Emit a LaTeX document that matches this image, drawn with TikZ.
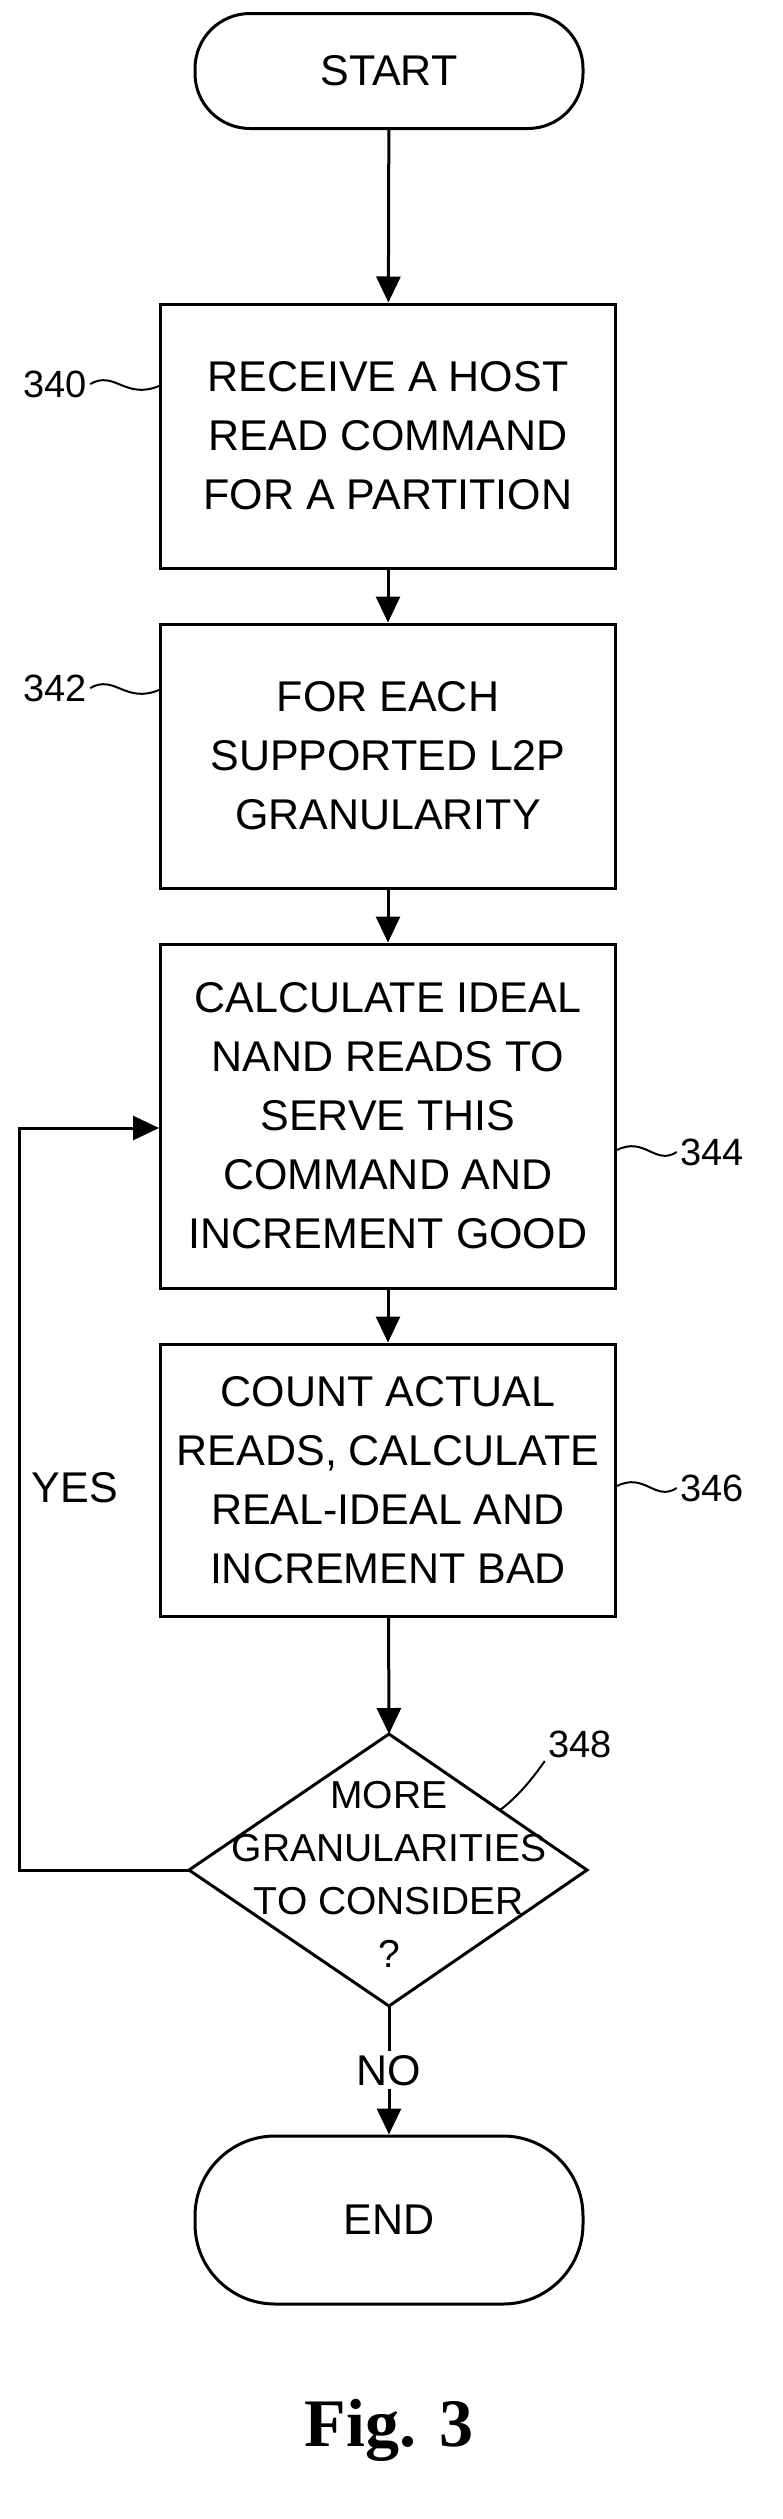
\documentclass[tikz,border=0pt]{standalone}
\usepackage{fontspec}
\setmainfont{Liberation Sans}
\usetikzlibrary{shapes.geometric,arrows.meta}
\begin{document}
\begin{tikzpicture}[x=1pt,y=-1pt,
  every node/.style={font=\fontsize{43}{59}\selectfont},
  box/.style={draw,line width=3pt,minimum width=455pt,align=center,inner sep=0pt},
  term/.style={draw,line width=3pt,rounded corners=55pt,minimum width=388pt,minimum height=115pt},
  arr/.style={line width=3pt,-{Triangle[length=26pt,width=24pt]}},
  lbl/.style={font=\fontsize{38}{40}\selectfont},
  lead/.style={line width=2pt}]
\useasboundingbox (0,0) rectangle (783,2519);
\node[term] (start) at (389,71) {START};
\node[box,minimum height=264pt] (b340) at (388,436) {RECEIVE A HOST\\READ COMMAND\\FOR A PARTITION};
\node[box,minimum height=264pt] (b342) at (388,756) {FOR EACH\\SUPPORTED L2P\\GRANULARITY};
\node[box,minimum height=344pt] (b344) at (388,1116) {CALCULATE IDEAL\\NAND READS TO\\SERVE THIS\\COMMAND AND\\INCREMENT GOOD};
\node[box,minimum height=272pt] (b346) at (388,1480) {COUNT ACTUAL\\READS, CALCULATE\\REAL-IDEAL AND\\INCREMENT BAD};
\coordinate (dt) at (389,1734);
\coordinate (dr) at (587,1870);
\coordinate (db) at (389,2006);
\coordinate (dl) at (189,1870);
\draw[line width=3pt] (dt) -- (dr) -- (db) -- (dl) -- cycle;
\node[align=center,font=\fontsize{39}{53}\selectfont] (d348) at (389,1874) {MORE\\GRANULARITIES\\TO CONSIDER\\?};
\node[term,minimum height=168pt,rounded corners=80pt] (end) at (389,2220) {END};
\draw[arr] (start) -- (b340);
\draw[arr] (b340) -- (b342);
\draw[arr] (b342) -- (b344);
\draw[arr] (b344) -- (b346);
\draw[arr] (b346) -- (dt);
\draw[arr] (db) -- node[fill=white,inner sep=4pt] {NO} (end);
\coordinate (yl) at (19,1870);
\coordinate (yt) at (19,1128);
\draw[arr] (dl) -- (yl) -- (yt) -- (b344.west |- yt);
\node at (75,1488) {YES};
\node[lbl] (l340) at (55,384) {340};
\node[lbl] (l342) at (55,688) {342};
\node[lbl] (l344) at (712,1152) {344};
\node[lbl] (l346) at (712,1488) {346};
\node[lbl] (l348) at (580,1744) {348};
\draw[lead] (l340.east) .. controls (115,370) and (125,400) .. (b340.west |- 0,386);
\draw[lead] (l342.east) .. controls (115,674) and (125,704) .. (b342.west |- 0,690);
\draw[lead] (l344.west) .. controls (655,1166) and (645,1136) .. (b344.east |- 0,1150);
\draw[lead] (l346.west) .. controls (655,1502) and (645,1472) .. (b346.east |- 0,1486);
\draw[lead] (l348.south west) .. controls (535,1775) and (520,1795) .. (500,1810);
\node[font=\fontspec{Liberation Serif}\bfseries\fontsize{68}{70}\selectfont] (fig) at (389,2430) {Fig. 3};
\end{tikzpicture}
\end{document}
